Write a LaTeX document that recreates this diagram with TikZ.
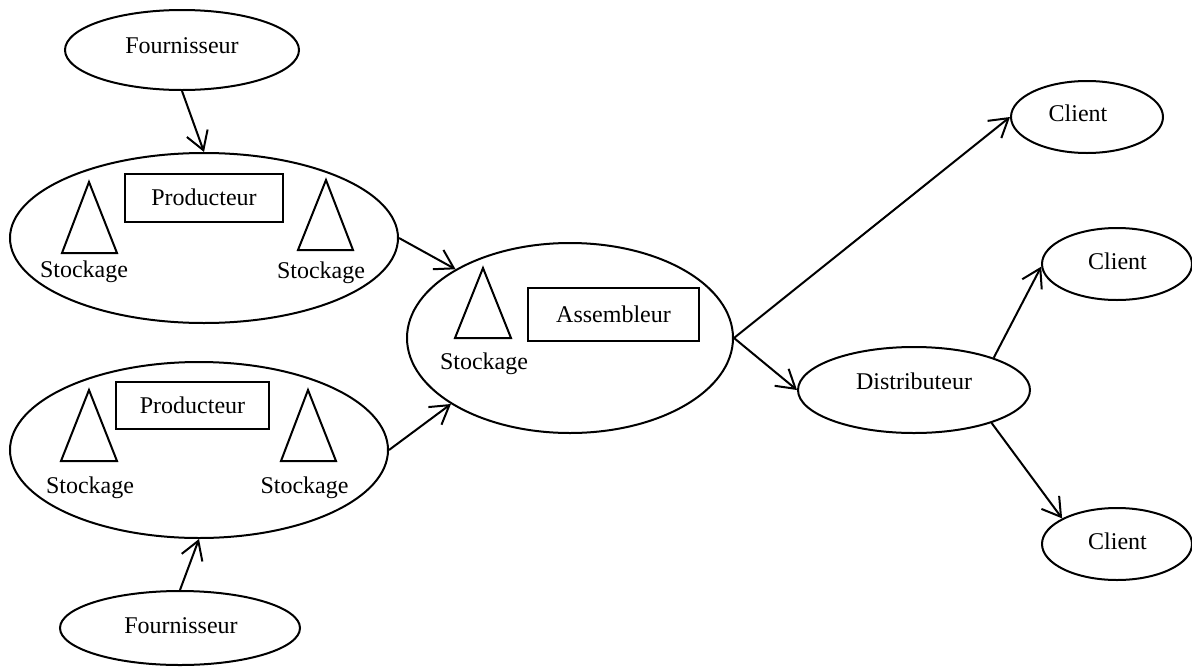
\documentclass[tikz,border=0pt]{standalone}
\usepackage{fontspec}
\setmainfont{Liberation Serif}
\usetikzlibrary{shapes.geometric,arrows.meta}
\begin{document}
\begin{tikzpicture}[x=1pt,y=-1pt,
  every node/.style={font=\fontsize{24}{28}\selectfont},
  ell/.style={draw,ellipse,line width=2pt,inner sep=0pt},
  box/.style={draw,rectangle,line width=2pt,inner sep=0pt},
  tri/.style={draw,line width=2pt,line join=miter},
  txt/.style={anchor=base,inner sep=0pt},
  arr/.style={line width=2pt,-{Straight Barb[length=18pt,width=22pt,line width=2pt]}}]
\useasboundingbox (0,0) rectangle (1192,667);
% ellipses
\node[ell,minimum width=234pt,minimum height=80pt] (f1) at (182,50) {};
\node[ell,minimum width=388pt,minimum height=170pt] (p1) at (204,238) {};
\node[ell,minimum width=378pt,minimum height=176pt] (p2) at (199,450) {};
\node[ell,minimum width=240pt,minimum height=74pt] (f2) at (180,628) {};
\node[ell,minimum width=326pt,minimum height=190pt] (as) at (570,338) {};
\node[ell,minimum width=232pt,minimum height=86pt] (di) at (914,390) {};
\node[ell,minimum width=152pt,minimum height=72pt] (c1) at (1087,117) {};
\node[ell,minimum width=150pt,minimum height=72pt] (c2) at (1117,264) {};
\node[ell,minimum width=150pt,minimum height=72pt] (c3) at (1117,544) {};
% boxes
\node[box,minimum width=158pt,minimum height=48pt] (pb1) at (204,197.5) {Producteur};
\node[box,minimum width=153pt,minimum height=47pt] (pb2) at (192.5,405.5) {Producteur};
\node[box,minimum width=171pt,minimum height=53pt] (ab) at (613.5,314.5) {Assembleur};
% triangles
\draw[tri] (89,182) -- (62,253) -- (117,253) -- cycle;
\draw[tri] (326,180) -- (298,250) -- (353,250) -- cycle;
\draw[tri] (89,390) -- (61,461) -- (117,461) -- cycle;
\draw[tri] (308,390) -- (281,461) -- (336,461) -- cycle;
\draw[tri] (483,268) -- (455,338) -- (511,338) -- cycle;
% texts
\node[txt] (tf1) at (182,53) {Fournisseur};
\node[txt] (tf2) at (181,633) {Fournisseur};
\node[txt] (ts1) at (84,277) {Stockage};
\node[txt] (ts2) at (321,278) {Stockage};
\node[txt] (ts3) at (90,493) {Stockage};
\node[txt] (ts4) at (304.5,493) {Stockage};
\node[txt] (ts5) at (484,369) {Stockage};
\node[txt] (tc1) at (1078,121) {Client};
\node[txt] (tc2) at (1117.5,269) {Client};
\node[txt] (tc3) at (1117.5,549) {Client};
\node[txt] (td) at (914,389) {Distributeur};
% arrows
\draw[arr] (f1.south) -- (p1.north);
\draw[arr] (f2.north) -- (p2.south);
\draw[arr] (p1.east) -- (as.149);
\draw[arr] (p2.east) -- (as.209);
\draw[arr] (as.east) -- (c1.west);
\draw[arr] (as.east) -- (di.west);
\draw[arr] (di.22) -- (c2.182);
\draw[arr] (di.337) -- (c3.155);
\end{tikzpicture}
\end{document}
